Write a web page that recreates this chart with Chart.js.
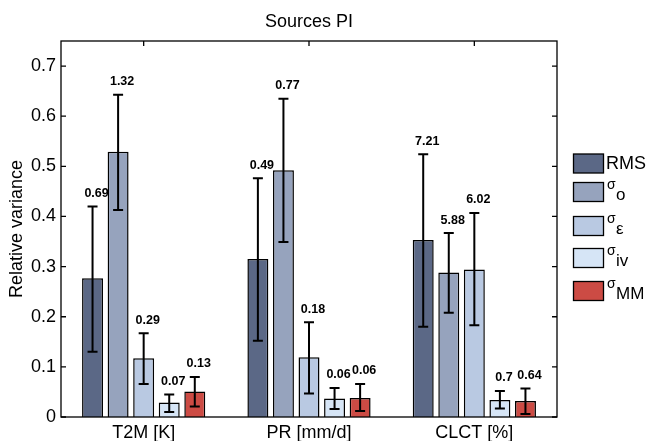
<!DOCTYPE html>
<html>
<head>
<meta charset="utf-8">
<script src="https://cdn.jsdelivr.net/npm/chart.js@4/dist/chart.umd.min.js"></script>
<style>
  html, body { margin: 0; padding: 0; background: #fff; }
  #wrap { width: 649px; height: 441px; }
</style>
</head>
<body>
<div id="wrap"><canvas id="c" width="649" height="441"></canvas></div>
<script>
// ---- data ----
const categories = ['T2M [K]', 'PR [mm/d]', 'CLCT [%]'];
const yTicks = [0, 0.1, 0.2, 0.3, 0.4, 0.5, 0.6, 0.7];

const rms      = [0.277, 0.315, 0.353];
const sigmaO   = [0.529, 0.492, 0.288];
const sigmaEps = [0.117, 0.119, 0.294];
const sigmaIv  = [0.029, 0.037, 0.034];
const sigmaMM  = [0.051, 0.038, 0.032];

const rmsLo = [0.130, 0.152, 0.180], rmsHi = [0.420, 0.476, 0.524];
const oLo   = [0.413, 0.349, 0.208], oHi   = [0.643, 0.635, 0.367];
const epsLo = [0.066, 0.047, 0.183], epsHi = [0.167, 0.189, 0.407];
const ivLo  = [0.010, 0.016, 0.017], ivHi  = [0.045, 0.058, 0.052];
const mmLo  = [0.021, 0.012, 0.006], mmHi  = [0.080, 0.066, 0.057];

const rmsLbl = ['0.69', '0.49', '7.21'];
const oLbl   = ['1.32', '0.77', '5.88'];
const epsLbl = ['0.29', '0.18', '6.02'];
const ivLbl  = ['0.07', '0.06', '0.7'];
const mmLbl  = ['0.13', '0.06', '0.64'];

const seriesNames = ['RMS', 'o', 'ε', 'iv', 'MM'];
const seriesColors = ['#5b6886', '#96a3bd', '#b9c9e2', '#d6e5f6', '#cc4b44'];

const FONT = "'Liberation Sans', Arial, Helvetica, sans-serif";

function mk(i, data, lo, hi, lbl) {
  return {
    label: seriesNames[i], data: data,
    backgroundColor: seriesColors[i], borderColor: '#000', borderWidth: 1.5,
    errLo: lo, errHi: hi, valLabels: lbl,
    categoryPercentage: 0.773, barPercentage: 0.82
  };
}

const errPlugin = {
  id: 'errbars',
  afterDatasetsDraw(chart) {
    const ctx = chart.ctx, ys = chart.scales.y;
    chart.data.datasets.forEach((ds, i) => {
      const meta = chart.getDatasetMeta(i);
      meta.data.forEach((el, j) => {
        const x = el.x;
        const yh = ys.getPixelForValue(ds.errHi[j]);
        const yl = ys.getPixelForValue(ds.errLo[j]);
        ctx.save();
        ctx.strokeStyle = '#000'; ctx.lineWidth = 2;
        ctx.beginPath();
        ctx.moveTo(x, yh); ctx.lineTo(x, yl);
        ctx.moveTo(x - 5, yh); ctx.lineTo(x + 5, yh);
        ctx.moveTo(x - 5, yl); ctx.lineTo(x + 5, yl);
        ctx.stroke();
        ctx.fillStyle = '#000';
        ctx.font = 'bold 12.5px ' + FONT;
        ctx.textAlign = 'center'; ctx.textBaseline = 'alphabetic';
        ctx.fillText(ds.valLabels[j], x + 4, yh - 9.5);
        ctx.restore();
      });
    });
  },
  afterDraw(chart) {
    const ctx = chart.ctx, ca = chart.chartArea, ys = chart.scales.y, xs = chart.scales.x;
    ctx.save();
    // box
    ctx.strokeStyle = '#000'; ctx.lineWidth = 1.3;
    ctx.strokeRect(ca.left, ca.top, ca.right - ca.left, ca.bottom - ca.top);
    // y ticks both sides, inward
    ctx.beginPath();
    yTicks.forEach(v => {
      const y = ys.getPixelForValue(v);
      ctx.moveTo(ca.left, y); ctx.lineTo(ca.left + 5, y);
      ctx.moveTo(ca.right, y); ctx.lineTo(ca.right - 5, y);
    });
    categories.forEach((c, k) => {
      const x = xs.getPixelForValue(k);
      ctx.moveTo(x, ca.top); ctx.lineTo(x, ca.top + 5);
    });
    ctx.stroke();
    // title
    ctx.fillStyle = '#000';
    ctx.font = '18px ' + FONT;
    ctx.textAlign = 'center'; ctx.textBaseline = 'alphabetic';
    ctx.fillText('Sources PI', (ca.left + ca.right) / 2, 26.5);
    // legend
    const tops = [154, 182.5, 216.5, 248.5, 281.5];
    const bx = 573.5, bw = 30, bh = 19;
    chart.data.datasets.forEach((ds, i) => {
      const t = tops[i];
      ctx.fillStyle = ds.backgroundColor;
      ctx.fillRect(bx, t, bw, bh);
      ctx.strokeStyle = '#000'; ctx.lineWidth = 1.3;
      ctx.strokeRect(bx, t, bw, bh);
      ctx.fillStyle = '#000';
      ctx.textAlign = 'left';
      if (i === 0) {
        ctx.font = '18px ' + FONT;
        ctx.textBaseline = 'middle';
        ctx.fillText('RMS', 606, t + bh / 2 + 1);
      } else {
        ctx.textBaseline = 'alphabetic';
        ctx.font = '14px ' + FONT;
        ctx.fillText('σ', 607, t + 6.5);
        ctx.font = '17px ' + FONT;
        ctx.fillText(ds.label, 616, t + 17.5);
      }
    });
    ctx.restore();
  }
};

new Chart(document.getElementById('c'), {
  type: 'bar',
  data: {
    labels: categories,
    datasets: [
      mk(0, rms, rmsLo, rmsHi, rmsLbl),
      mk(1, sigmaO, oLo, oHi, oLbl),
      mk(2, sigmaEps, epsLo, epsHi, epsLbl),
      mk(3, sigmaIv, ivLo, ivHi, ivLbl),
      mk(4, sigmaMM, mmLo, mmHi, mmLbl)
    ]
  },
  options: {
    responsive: false,
    animation: false,
    devicePixelRatio: 1,
    layout: { padding: { left: 0, right: 92, top: 41, bottom: 0 } },
    plugins: { legend: { display: false }, title: { display: false }, tooltip: { enabled: false } },
    scales: {
      x: {
        grid: { display: false, drawTicks: false },
        border: { display: false },
        ticks: { font: { family: FONT, size: 18 }, color: '#000', padding: 5, maxRotation: 0 },
        afterFit(s) { s.height = 24; }
      },
      y: {
        min: 0, max: 0.75,
        grid: { display: false, drawTicks: false },
        border: { display: false },
        ticks: {
          stepSize: 0.1, includeBounds: false,
          font: { family: FONT, size: 18 }, color: '#000', padding: 5,
          callback: v => (Math.abs(v) < 1e-9 ? '0' : (Math.round(v * 10) / 10).toFixed(1))
        },
        title: { display: true, text: 'Relative variance', font: { family: FONT, size: 18 }, color: '#000', padding: { top: 6, bottom: 0 } },
        afterFit(s) { s.width = 61; }
      }
    }
  },
  plugins: [errPlugin]
});
</script>
</body>
</html>
